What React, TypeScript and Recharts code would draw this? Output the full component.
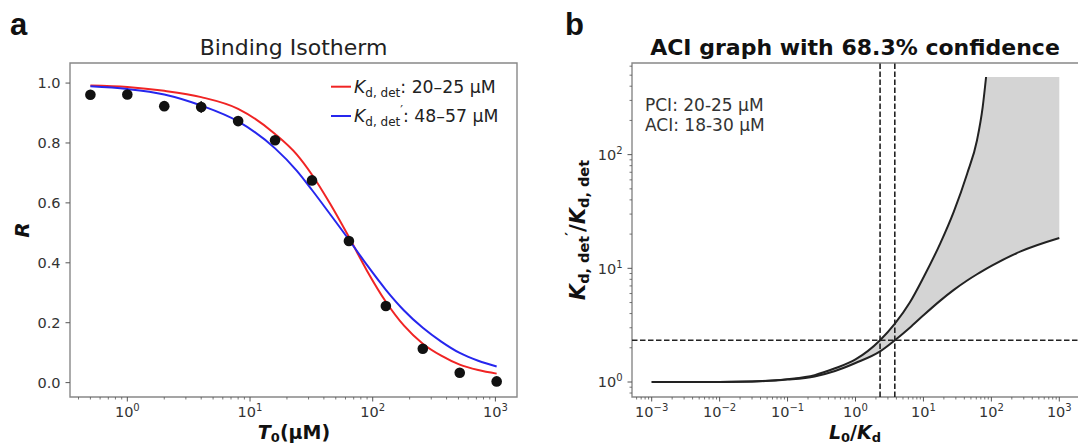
import React from "react";
import {
  ComposedChart,
  Line,
  Scatter,
  ErrorBar,
  Area,
  XAxis,
  YAxis,
  ReferenceLine,
  ReferenceArea,
} from "recharts";

// panel a: binding isotherm
const concentrations = [0.5, 1, 2, 4, 8, 16, 32, 64, 128, 256, 512, 1024];
const measuredR = [0.961, 0.962, 0.923, 0.92, 0.873, 0.809, 0.675, 0.473, 0.256, 0.113, 0.033, 0.004];
const measuredErr = [0.006, 0.006, 0.01, 0.02, 0.006, 0.016, 0.008, 0.006, 0.005, 0.005, 0.005, 0.004];

const fitX = [0.5, 1, 2, 4, 8, 16, 24, 32, 45, 64, 90, 128, 180, 256, 362, 512, 724, 1024];
const fitKd = [0.992, 0.987, 0.974, 0.953, 0.914, 0.83, 0.762, 0.694, 0.597, 0.486, 0.373, 0.27, 0.19, 0.13, 0.09, 0.06, 0.042, 0.03];
const fitKdPrime = [0.989, 0.98, 0.962, 0.925, 0.872, 0.782, 0.708, 0.643, 0.562, 0.477, 0.392, 0.31, 0.241, 0.183, 0.137, 0.099, 0.073, 0.054];
const legendRanges = ["20–25 μM", "48–57 μM"];

// panel b: ACI graph
const ratioX = [0.001, 0.003, 0.01, 0.03, 0.1, 0.25, 0.5, 1, 2.3, 3.8, 6.3, 10, 17.7, 28, 44, 61.5, 74.5, 83.6, 105, 270, 1000];
const ratioLower = [1.0, 1.0, 1.0, 1.01, 1.05, 1.12, 1.25, 1.47, 1.86, 2.33, 3.0, 3.86, 5.2, 6.46, 7.82, 8.87, 9.5, 9.89, 10.67, 14.1, 18.5];
const ratioUpper = [1.0, 1.0, 1.0, 1.01, 1.06, 1.15, 1.32, 1.58, 2.33, 3.26, 5.0, 8.3, 16.6, 31.6, 68, 134, 262, 482, null, null, null];
const bandCeiling = 482;
const pciBounds = [2.3, 3.79];
const ratioLevel = 2.33;
const annotations = ["PCI: 20-25 μM", "ACI: 18-30 μM"];

// ticks
const leftYTicks = [0, 0.2, 0.4, 0.6, 0.8, 1.0];
const leftYLabels = ["0.0", "0.2", "0.4", "0.6", "0.8", "1.0"];
const leftXMajor = [1, 10, 100, 1000];
const leftXExp = ["0", "1", "2", "3"];
const rightXMajor = [0.001, 0.01, 0.1, 1, 10, 100, 1000];
const rightXExp = ["−3", "−2", "−1", "0", "1", "2", "3"];
const rightYMajor = [1, 10, 100];
const rightYExp = ["0", "1", "2"];
const mantissas = [2, 3, 4, 5, 6, 7, 8, 9];

const leftXDomain = [0.341, 1500];
const leftYDomain = [-0.048, 1.067];
const rightXDomain = [0.000513, 1950];
const rightYDomain = [0.738, 640];

const minorTicks = (decades: number[], dom: number[]) =>
  decades.flatMap((d) => mantissas.map((m) => m * d)).filter((v) => v > dom[0] && v < dom[1]);

const isoRows = fitX.map((x, i) => ({ x, kd: fitKd[i], kdp: fitKdPrime[i] }));
const isoPoints = concentrations.map((x, i) => ({ x, r: measuredR[i], err: measuredErr[i] }));
const aciRows = ratioX.map((x, i) => ({
  x,
  lower: ratioLower[i],
  upper: ratioUpper[i],
  band: [ratioLower[i], ratioUpper[i] ?? bandCeiling],
}));

const FONT = '"DejaVu Sans", sans-serif';
const TICK = "#555";
const TXT = "#333";
const FRAME = "#888";

const matchIndex = (arr: number[], v: number) => arr.findIndex((m) => Math.abs(m - v) / Math.abs(m || 1) < 1e-6);

const xLogTick = (majors: number[], exps: string[]) => (props: any) => {
  const { x, y, payload } = props;
  const i = matchIndex(majors, payload.value);
  if (i < 0) return <line x1={x} x2={x} y1={y} y2={y + 2.5} stroke={TICK} strokeWidth={0.8} />;
  return (
    <g>
      <line x1={x} x2={x} y1={y} y2={y + 4.5} stroke={TICK} strokeWidth={1} />
      <text x={x} y={y + 19.5} textAnchor="middle" fontSize={14.5} fontFamily={FONT} fill={TXT}>
        10<tspan dy={-6} fontSize={10}>{exps[i]}</tspan>
      </text>
    </g>
  );
};

const yLogTick = (majors: number[], exps: string[]) => (props: any) => {
  const { x, y, payload } = props;
  const i = matchIndex(majors, payload.value);
  if (i < 0) return <line x1={x} x2={x - 2.5} y1={y} y2={y} stroke={TICK} strokeWidth={0.8} />;
  return (
    <g>
      <line x1={x} x2={x - 4.5} y1={y} y2={y} stroke={TICK} strokeWidth={1} />
      <text x={x - 9.5} y={y + 5.3} textAnchor="end" fontSize={14.5} fontFamily={FONT} fill={TXT}>
        10<tspan dy={-6} fontSize={10}>{exps[i]}</tspan>
      </text>
    </g>
  );
};

const yLinTick = (props: any) => {
  const { x, y, payload } = props;
  const i = matchIndex(leftYTicks, payload.value);
  return (
    <g>
      <line x1={x} x2={x - 4.5} y1={y} y2={y} stroke={TICK} strokeWidth={1} />
      <text x={x - 9.5} y={y + 5.3} textAnchor="end" fontSize={14.5} fontFamily={FONT} fill={TXT}>
        {leftYLabels[i] ?? ""}
      </text>
    </g>
  );
};

const dot = (p: any) => <circle cx={p.cx} cy={p.cy} r={5.3} fill="#111" />;

export default function App() {
  return (
    <div
      style={{
        position: "absolute",
        left: 0,
        top: 0,
        width: 1078,
        height: 446,
        overflow: "hidden",
        background: "#fff",
      }}
    >
      <div style={{ position: "absolute", left: 0, top: 0 }}>
        <ComposedChart width={540} height={446} data={isoRows} margin={{ top: 63, right: 23, bottom: 0, left: 0 }}>
          <XAxis
            dataKey="x"
            type="number"
            scale="log"
            domain={leftXDomain}
            allowDataOverflow
            ticks={[...leftXMajor, ...minorTicks([0.1, 1, 10, 100], leftXDomain)]}
            interval={0}
            tick={xLogTick(leftXMajor, leftXExp)}
            tickLine={false}
            axisLine={false}
            tickSize={0}
            tickMargin={0}
            height={49}
          />
          <YAxis
            type="number"
            domain={leftYDomain}
            allowDataOverflow
            ticks={leftYTicks}
            interval={0}
            tick={yLinTick}
            tickLine={false}
            axisLine={false}
            tickSize={0}
            tickMargin={0}
            width={70}
          />
          <ReferenceArea
            x1={leftXDomain[0]}
            x2={leftXDomain[1]}
            y1={leftYDomain[0]}
            y2={leftYDomain[1]}
            fill="none"
            stroke={FRAME}
            strokeWidth={1.4}
            ifOverflow="visible"
          />
          <Scatter data={isoPoints} dataKey="r" shape={dot} isAnimationActive={false}>
            <ErrorBar dataKey="err" direction="y" width={0} stroke="#333" strokeWidth={1.5} isAnimationActive={false} />
          </Scatter>
          <Line dataKey="kd" type="monotone" stroke="#f02424" strokeWidth={2} dot={false} isAnimationActive={false} />
          <Line dataKey="kdp" type="monotone" stroke="#2626ee" strokeWidth={2} dot={false} isAnimationActive={false} />
        </ComposedChart>
      </div>

      <div style={{ position: "absolute", left: 540, top: 0 }}>
        <ComposedChart width={540} height={446} data={aciRows} margin={{ top: 63, right: 1, bottom: 0, left: 0 }}>
          <XAxis
            dataKey="x"
            type="number"
            scale="log"
            domain={rightXDomain}
            allowDataOverflow
            ticks={[...rightXMajor, ...minorTicks([0.0001, 0.001, 0.01, 0.1, 1, 10, 100, 1000], rightXDomain)]}
            interval={0}
            tick={xLogTick(rightXMajor, rightXExp)}
            tickLine={false}
            axisLine={false}
            tickSize={0}
            tickMargin={0}
            height={49}
          />
          <YAxis
            type="number"
            scale="log"
            domain={rightYDomain}
            allowDataOverflow
            ticks={[...rightYMajor, ...minorTicks([0.1, 1, 10, 100], rightYDomain)]}
            interval={0}
            tick={yLogTick(rightYMajor, rightYExp)}
            tickLine={false}
            axisLine={false}
            tickSize={0}
            tickMargin={0}
            width={92}
          />
          <ReferenceArea
            x1={rightXDomain[0]}
            x2={rightXDomain[1]}
            y1={rightYDomain[0]}
            y2={rightYDomain[1]}
            fill="none"
            stroke={FRAME}
            strokeWidth={1.4}
            ifOverflow="visible"
          />
          <Area dataKey="band" type="monotone" fill="#d4d4d4" fillOpacity={1} stroke="none" isAnimationActive={false} />
          <Line dataKey="upper" type="monotone" stroke="#222" strokeWidth={2} dot={false} isAnimationActive={false} />
          <Line dataKey="lower" type="monotone" stroke="#222" strokeWidth={2} dot={false} isAnimationActive={false} />
          {pciBounds.map((b) => (
            <ReferenceLine key={b} x={b} stroke="#222" strokeWidth={1.6} strokeDasharray="5.5 2.5" />
          ))}
          <ReferenceLine y={ratioLevel} stroke="#222" strokeWidth={1.6} strokeDasharray="5.5 2.5" />
        </ComposedChart>
      </div>

      <svg
        width={1078}
        height={446}
        style={{ position: "absolute", left: 0, top: 0, pointerEvents: "none" }}
        fontFamily={FONT}
      >
        <text x={10} y={35} fontSize={31} fontWeight="bold" fontFamily='"Liberation Sans", Arial, sans-serif' fill="#111">
          a
        </text>
        <text x={565} y={35} fontSize={31} fontWeight="bold" fontFamily='"Liberation Sans", Arial, sans-serif' fill="#111">
          b
        </text>
        <text x={293.5} y={55} textAnchor="middle" fontSize={22} fill="#222">
          Binding Isotherm
        </text>
        <text x={855} y={55} textAnchor="middle" fontSize={22} fontWeight="bold" fill="#111">
          ACI graph with 68.3% confidence
        </text>

        {/* legend of panel a */}
        <line x1={331} x2={351} y1={86.7} y2={86.7} stroke="#f02424" strokeWidth={2} />
        <text x={354} y={92.8} fontSize={17.3} fill="#222">
          <tspan fontStyle="italic">K</tspan>
          <tspan fontSize={12} dy={4}>d, det</tspan>
          <tspan dy={-4}>: {legendRanges[0]}</tspan>
        </text>
        <line x1={331} x2={351} y1={116} y2={116} stroke="#2626ee" strokeWidth={2} />
        <text x={354} y={122} fontSize={17.3} fill="#222">
          <tspan fontStyle="italic">K</tspan>
          <tspan fontSize={12} dy={4}>d, det</tspan>
          <tspan fontSize={12} dy={-12}>′</tspan>
          <tspan dy={8}>: {legendRanges[1]}</tspan>
        </text>

        {/* annotation of panel b */}
        {annotations.map((t, i) => (
          <text key={t} x={645} y={111 + i * 20.4} fontSize={17} fill={TXT}>
            {t}
          </text>
        ))}

        {/* axis labels */}
        <text transform="translate(29,230) rotate(-90)" textAnchor="middle" fontSize={20} fontWeight="bold" fontStyle="italic" fill="#111">
          R
        </text>
        <text x={294} y={438.5} textAnchor="middle" fontSize={19} fontWeight="bold" fill="#111">
          <tspan fontStyle="italic">T</tspan>
          <tspan fontSize={13} dy={3}>0</tspan>
          <tspan dy={-3}>(μM)</tspan>
        </text>
        <text transform="translate(585,230) rotate(-90)" textAnchor="middle" fontSize={21} fontWeight="bold" fill="#111">
          <tspan fontStyle="italic">K</tspan>
          <tspan fontSize={14.5} dy={4}>d, det</tspan>
          <tspan fontSize={14.5} dy={-14}>′</tspan>
          <tspan dy={10}>/</tspan>
          <tspan fontStyle="italic">K</tspan>
          <tspan fontSize={14.5} dy={4}>d, det</tspan>
        </text>
        <text x={855} y={438.5} textAnchor="middle" fontSize={19} fontWeight="bold" fill="#111">
          <tspan fontStyle="italic">L</tspan>
          <tspan fontSize={13} dy={3}>0</tspan>
          <tspan dy={-3}>/</tspan>
          <tspan fontStyle="italic">K</tspan>
          <tspan fontSize={13} dy={3}>d</tspan>
        </text>
      </svg>
    </div>
  );
}
